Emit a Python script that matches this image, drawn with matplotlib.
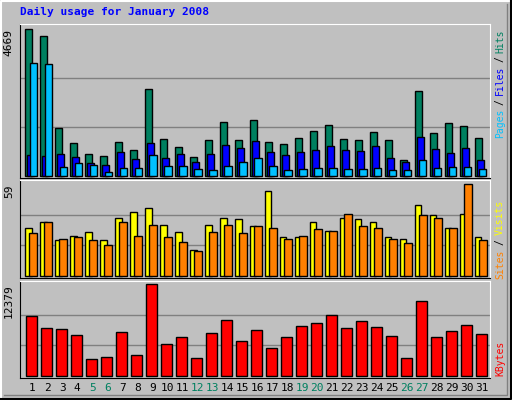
import matplotlib

matplotlib.use("Agg")
import matplotlib.pyplot as plt

days = list(range(1, 32))
weekend_days = [5, 6, 12, 13, 19, 20, 26, 27]

hits = [4669, 4457, 1528, 1040, 690, 637, 1082, 828, 2770, 1178, 923, 605, 1146, 1719, 1146, 1783,
        1082, 1019, 1210, 1432, 1624, 1178, 1146, 1401, 1146, 509, 2706, 1369, 1687, 1592, 1210]
files = [669, 637, 690, 605, 403, 350, 764, 541, 1050, 573, 690, 435, 690, 987, 891, 1114,
         764, 669, 764, 828, 955, 828, 796, 955, 573, 435, 1242, 860, 732, 891, 509]
pages = [3597, 3565, 286, 403, 350, 127, 255, 255, 669, 318, 318, 223, 191, 318, 446, 573,
         318, 191, 223, 255, 255, 223, 223, 255, 191, 191, 509, 255, 286, 286, 223]
sites = [31, 34.5, 23, 26, 28, 23, 37, 41, 44, 33, 28, 17, 33, 37, 36.5, 32,
         55, 25, 25, 35, 29, 37, 36.5, 35, 25, 24, 45.5, 39, 31, 40, 25]
visits = [27.5, 34.5, 24, 25, 23, 20, 34.5, 26, 33, 25, 22, 16, 28, 33, 27.5, 32,
          31, 24, 26, 30, 29, 40, 32, 31, 24, 21, 39, 37, 31, 59, 23]
kbytes = [8042, 6415, 6280, 5467, 2214, 2485, 5873, 2756, 12379, 4247, 5196, 2349, 5738, 7500, 4653, 6144,
          3705, 5196, 6686, 7093, 8177, 6415, 7364, 6551, 5331, 2349, 10075, 5196, 6009, 6822, 5602]

GREY = "#c0c0c0"
C_HITS, C_FILES, C_PAGES = "#008060", "#0000ff", "#00c0ff"
C_SITES, C_VISITS, C_KB = "#ffff00", "#ff8000", "#ff0000"
MONO = "DejaVu Sans Mono"

W, H = 512, 400
fig = plt.figure(figsize=(5.12, 4.0), dpi=100, facecolor=GREY)


def px_axes(x0, y0, x1, y1):
    return fig.add_axes([x0 / W, 1 - y1 / H, (x1 - x0) / W, (y1 - y0) / H])


def panel(y0, y1, base, top, vmax):
    ax = px_axes(20, y0, 490, y1)
    ax.set_facecolor(GREY)
    scale = (base - top) / vmax
    ax.set_ylim(-(y1 - base) / scale, vmax + (top - y0) / scale)
    ax.set_xlim(0.13, 31.47)
    for f in (1 / 3, 2 / 3):
        ax.axhline(vmax * f, color="#808080", lw=1, zorder=0)
    ax.set_xticks([])
    ax.set_yticks([])
    for s in ("left", "bottom"):
        ax.spines[s].set_color("black")
    for s in ("top", "right"):
        ax.spines[s].set_color("white")
    ax.text(-0.013, 1 - (top - y0) / (y1 - y0), str(vmax), transform=ax.transAxes, rotation=90,
            ha="right", va="top", fontsize=8, family=MONO)
    return ax


bar_kw = dict(edgecolor="black", linewidth=1)

ax1 = panel(24, 178, 176, 29.3, 4669)
ax1.bar([d - 0.28 for d in days], hits, width=0.47, color=C_HITS, **bar_kw)
ax1.bar([d - 0.15 for d in days], files, width=0.47, color=C_FILES, **bar_kw)
ax1.bar(days, pages, width=0.47, color=C_PAGES, **bar_kw)

ax2 = panel(180, 278, 276, 184.3, 59)
ax2.bar([d - 0.31 for d in days], sites, width=0.42, color=C_SITES, **bar_kw)
ax2.bar(days, visits, width=0.5, color=C_VISITS, **bar_kw)

ax3 = panel(281, 378, 375.7, 284.3, 12379)
ax3.bar([d - 0.1 for d in days], kbytes, width=0.69, color=C_KB, **bar_kw)

for d in days:
    ax3.text(d - 0.05, -0.05, str(d), transform=ax3.get_xaxis_transform(), ha="center", va="top",
             fontsize=8, family=MONO, color="#008060" if d in weekend_days else "black")

fig.text(20 / W, 1 - 12 / H, "Daily usage for January 2008", color="#0000ff", fontsize=8,
         fontweight="bold", family=MONO, ha="left", va="center")


def side_label(pieces):
    for txt, y, col in pieces:
        fig.text(500 / W, 1 - y / H, txt, rotation=90, color=col, fontsize=7, family=MONO,
                 ha="center", va="center")


side_label([("Hits", 41, C_HITS), ("/", 59, "black"), ("Files", 80, C_FILES),
            ("/", 102, "black"), ("Pages", 123, C_PAGES)])
side_label([("Visits", 217, C_SITES), ("/", 242, "black"), ("Sites", 264, C_VISITS)])
side_label([("KBytes", 358, C_KB)])

# 3D-ish outer frame
frame = fig.add_axes([0, 0, 1, 1], facecolor="none")
frame.set_xlim(0, W)
frame.set_ylim(H, 0)
frame.axis("off")
frame.plot([1, 1, W - 1], [H - 1, 1, 1], color="white", lw=1.5)
frame.plot([1, W - 1, W - 1], [H - 1, H - 1, 1], color="black", lw=1.5)
frame.plot([4, W - 5, W - 5], [H - 5, H - 5, 4], color="#808080", lw=1)

fig.savefig("out.png", dpi=100, facecolor=GREY)
